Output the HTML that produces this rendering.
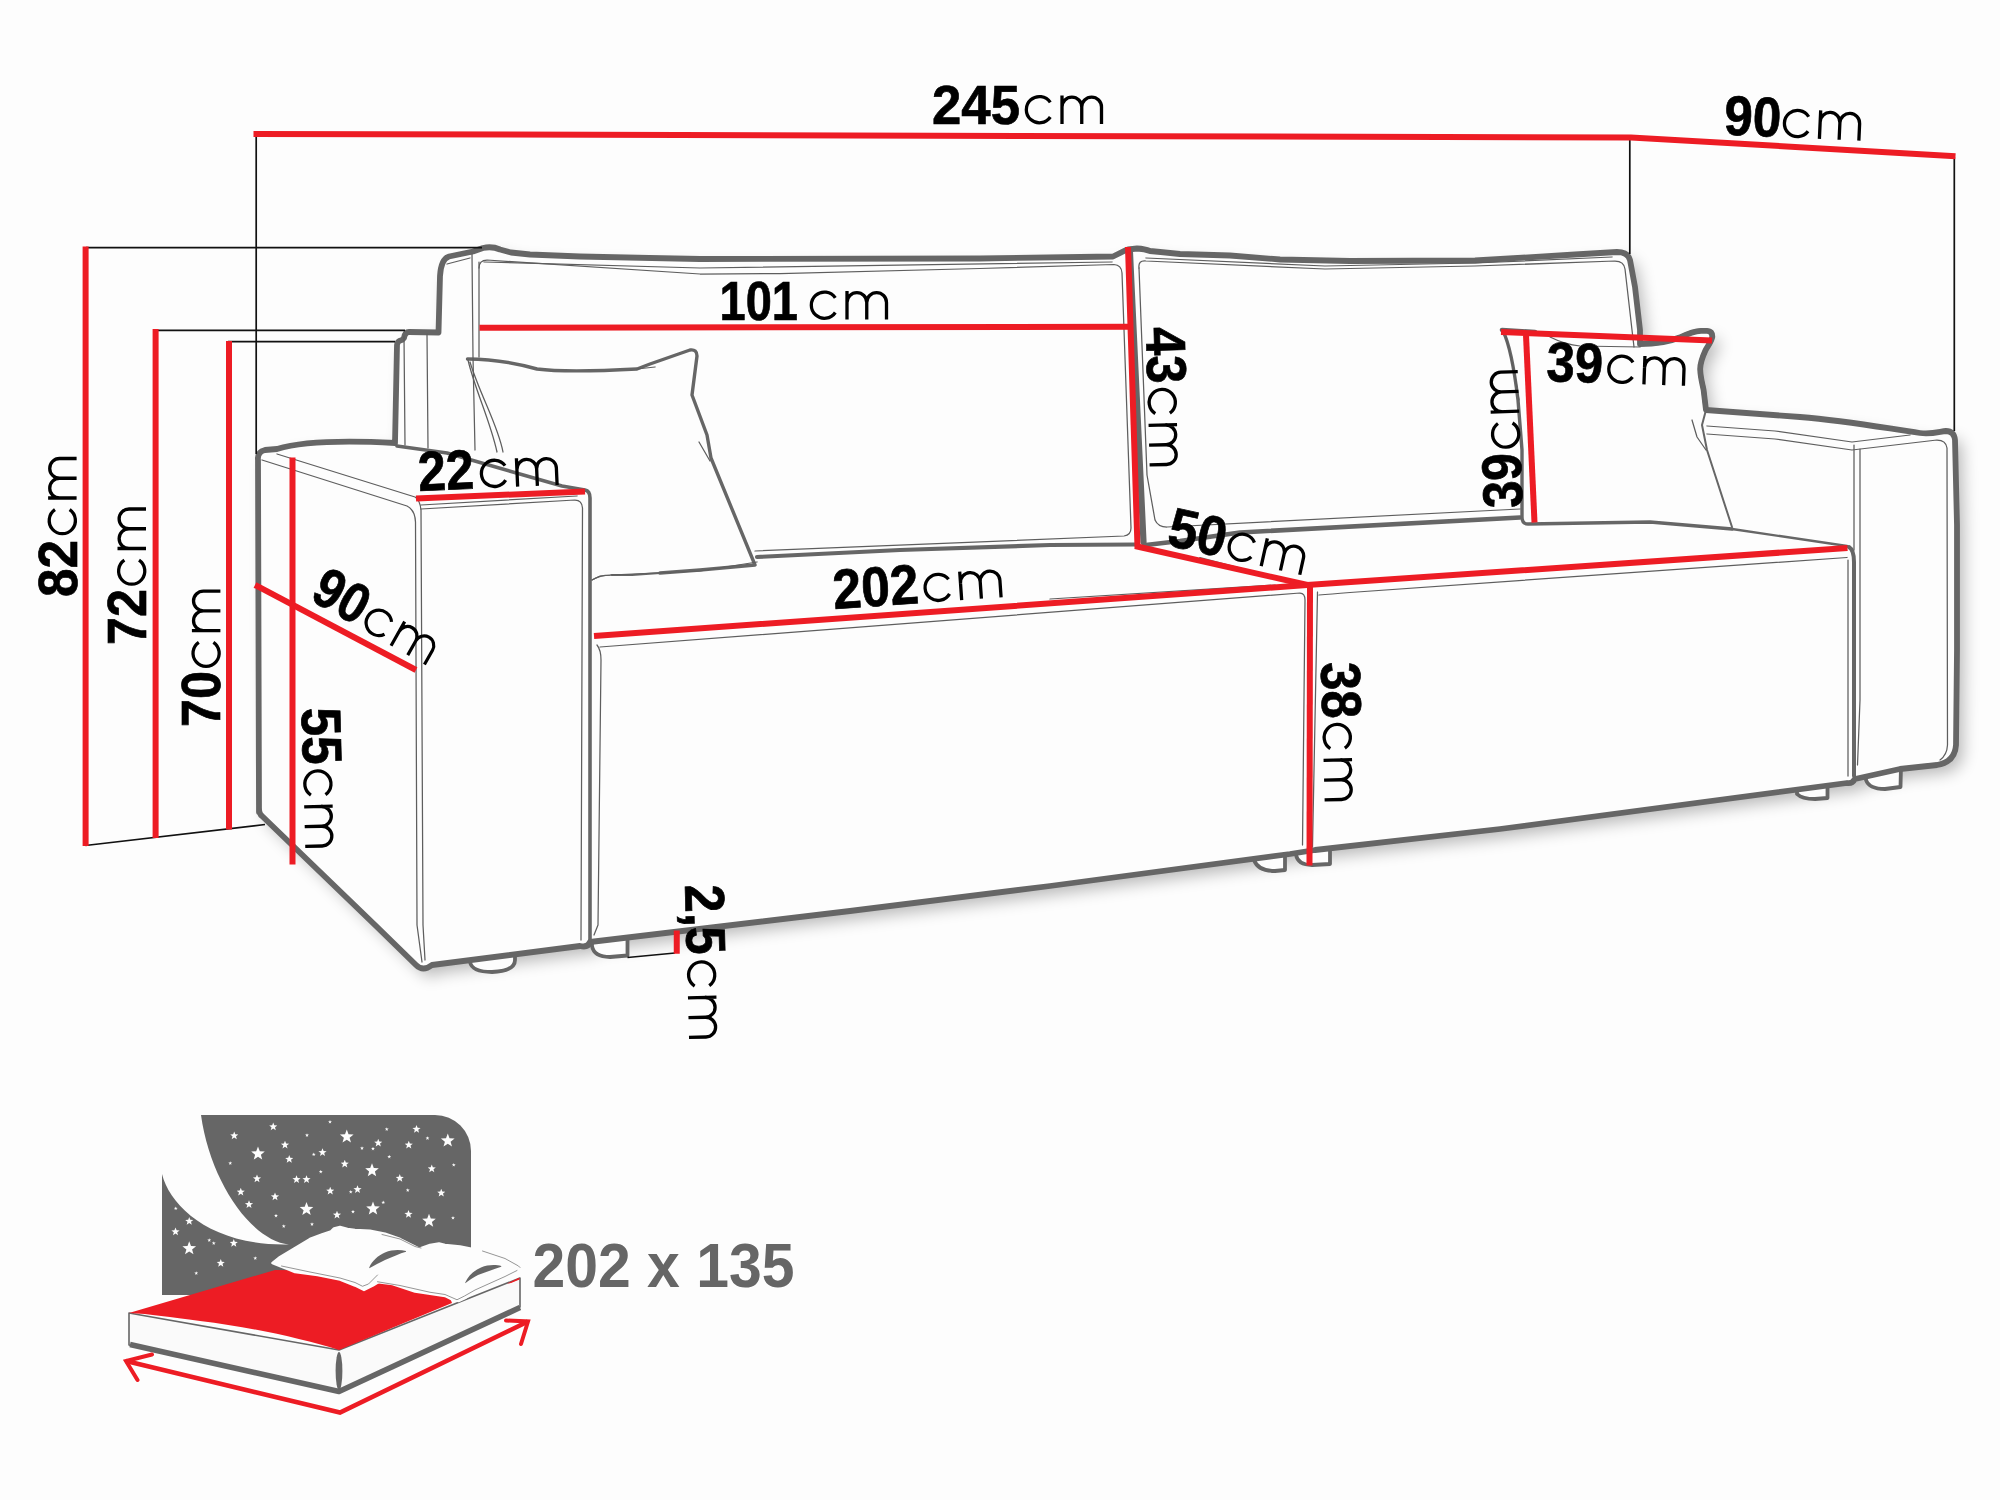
<!DOCTYPE html>
<html>
<head>
<meta charset="utf-8">
<title>Sofa dimensions</title>
<style>
html,body{margin:0;padding:0;background:#fdfdfd;}
body{width:2000px;height:1500px;overflow:hidden;font-family:"Liberation Sans",sans-serif;}
svg{display:block;}
.tk{fill:none;stroke:#666;stroke-linecap:round;stroke-linejoin:round;}
.tn{fill:none;stroke:#5e5e5e;stroke-width:1.25;stroke-linecap:round;stroke-linejoin:round;}
.bk{fill:none;stroke:#111;stroke-width:1.7;}
.rd{fill:none;stroke:#ed1c24;stroke-width:6;stroke-linecap:butt;stroke-linejoin:miter;}
.num{font-family:"Liberation Sans",sans-serif;font-weight:bold;font-size:56px;fill:#000;stroke:#000;stroke-width:0.7;}
.cm{fill:none;stroke:#000;stroke-width:3.3;stroke-linecap:butt;}
</style>
</head>
<body>
<svg width="2000" height="1500" viewBox="0 0 2000 1500">
<defs>
  <filter id="sh" filterUnits="userSpaceOnUse" x="200" y="200" width="1800" height="820">
    <feGaussianBlur in="SourceAlpha" stdDeviation="8"/>
    <feOffset dx="7" dy="8"/>
    <feComponentTransfer><feFuncA type="linear" slope="0.27"/></feComponentTransfer>
  </filter>
  <g id="cm" class="cm">
    <path d="M26.3,-21.6 A13.1,13.1 0 1 0 26.3,-7"/>
    <path d="M38,-28.5 V0 M38,-17 A9.875,9.875 0 0 1 57.75,-17 V0 M57.75,-17 A9.875,9.875 0 0 1 77.5,-17 V0"/>
  </g>
  <path id="sil" d="M259,812 L258,460 Q257,452 265,450 L277,449 C300,442 340,440 395,443 L397,345 Q397,341 402,340 L404,338 Q405,332 409,332 L438.5,332.5 L440,276 Q441,259 449,256.5 L473,251.5 L483,248 Q492,246 500,249.5 L511,252.5 L530,254.5 L580,256.5 L700,259 L980,258.5 L1080,257 L1113,256.5 L1125,250.5 L1128,249.5 L1137,248.5 Q1145,249 1150,251 L1180,254 L1230,255.5 L1280,259.5 L1350,261 L1475,260.5 L1575,254.5 L1617,252 Q1628,252 1630,260 L1635,287 L1640,330 L1640,344 C1658,344 1670,341.5 1679.5,337.5 C1688,333.5 1694,331 1701,330.8 L1707,330.8 Q1712.5,331 1712.3,337 C1711,343 1707,347 1705.4,350.5 C1702,358 1700,364 1700.2,369.5 C1700.5,378 1702.5,384 1703.6,390 L1706,410 L1800,417 C1850,421 1890,429 1920,433 C1932,434.5 1940,431.5 1946,431 Q1954,431 1955,440 L1957,525 L1957,650 L1956,745 Q1955,762 1937,765 L1900,769 L1855,779 Q1852,784 1847,783 L1500,829 L1315,850 L1290,854 L1050,886 L850,911 L590,942 Q588,948 580,946 L432,965 Q423,972 416,965 L375,925 L262,816 Q259,814 259,808 Z"/>
</defs>

<!-- SOFA -->
<g id="sofa">
  <use href="#sil" fill="#000" filter="url(#sh)"/>
  <g style="fill:#fdfdfd;stroke:#666;stroke-width:3.8;stroke-linejoin:round">
    <path d="M470,955 L470,962 Q472,972 492,972 Q515,971 515,960 L515,950 Z"/>
    <path d="M592,938 L592,946 Q594,957 610,957 L627.5,955.5 L627.5,936 Z"/>
    <path d="M1254,852 L1254,860 Q1258,871 1275,871 L1285,870 L1285,848 Z"/>
    <path d="M1296,848 L1296,855 Q1298,865 1312,865 L1330,864 L1330,844 Z"/>
    <path d="M1797,786 L1797,794 Q1802,799 1815,799 L1827.5,798 L1827.5,782 Z"/>
    <path d="M1866,772 L1866,780 Q1869,789 1885,789 L1900.5,787 L1901,766 Z"/>
  </g>
  <use href="#sil" style="fill:#fdfdfd;stroke:#666;stroke-width:5.8;stroke-linejoin:round"/>
</g>

<!-- SOFA-INNER -->
<g id="inner">
  <!-- thick inner lines -->
  <path class="tk" stroke-width="3.6" d="M397,446 L447,453 L562,486 L585,490 Q590,491 590,498 L590,940"/>
  <path class="tk" stroke-width="6.2" d="M1130,253 L1143.5,542"/>
  <path class="tk" stroke-width="4.2" d="M757,557 L900,550 L1050,545 L1135,544.5"/>
  <path class="tk" stroke-width="4.6" d="M1146,545 L1180,541 L1240,532.5 L1520,517.5"/>
  <path class="tk" stroke-width="4" d="M1849,547 Q1854,550 1854,562 L1854,776"/>
  <path class="tk" stroke-width="2.4" d="M1732,529 L1847,546"/>
  <!-- left pillow -->
  <path class="tk" stroke-width="3.4" d="M467.5,359 C490,359 512,362 537,369 C560,372 600,371 637,369 L650,364 L690,350 Q697,349 697,356 L692,395 L707,435 L711,458 L755,565 L700,570 L660,573"/>
  <path class="tk" stroke-width="2.2" d="M660,573 L632,575 L612,575"/>
  <path class="tn" d="M612,575 L600,576 L592,580 M699,442 L710,461 M637,369 L655,367"/>
  <path class="tn" d="M468,360 C475,390 490,420 497,452 M470,362 C480,395 498,425 503,452"/>
  <!-- right pillow -->
  <path class="tk" stroke-width="4.6" d="M1502,330 L1535,332 M1640,344 C1658,344 1670,341.5 1679.5,337.5 C1688,333.5 1694,331 1701,330.8 L1707,330.8 Q1712.5,331 1712.3,337 C1711,343 1707,347 1705.4,350.5 C1702,358 1700,364 1700.2,369.5 C1700.5,378 1702.5,384 1703.6,390 L1706,410"/>
  <path class="tk" stroke-width="3.4" d="M1503,331 C1510,345 1515,375 1518,400 L1522,450 L1522,517 Q1522,524 1528,524 L1650,522 L1732,529"/>
  <path class="tk" stroke-width="2" d="M1706,410 L1702,425 L1707,450 L1732,527"/>
  <path class="tn" d="M1550,337 C1560,342 1570,345 1580,346 L1640,347 M1692,420 L1697,437 L1706,450 M1506,337 C1512,360 1516,380 1519,400"/>
  <!-- thin seams: left arm -->
  <path class="tn" d="M262,460 L407,506 Q415,510 415.5,522 L417,925 L422,962"/>
  <path class="tn" d="M277,454 L415,497 Q420,500 421,510 L423,925 L425,960"/>
  <path class="tn" d="M421,509 L575,500 Q582,500 582.5,508 L581,940"/>
  <path class="tn" d="M421,505 L577,496"/>
  <!-- back left post seams -->
  <path class="tn" d="M472,254 L473,357 L475,450 M479,262 L479,357 M404,336 L405,445 M427,334 L428,448 M447,264 L470,258"/>
  <!-- left back cushion -->
  <path class="tn" d="M479,268 Q479,260 487,260 L700,274 L780,273.5 L980,268.5 L1114,264.5 Q1121.5,265 1122,273 L1131,528 Q1131,535 1124,536 L755,551"/>
  <path class="tn" d="M484,262 L700,268 L1112,262"/>
  <!-- right back cushion -->
  <path class="tn" d="M1139,268 Q1138,260 1146,261 L1325,269 L1475,266 L1615,261 Q1624,261 1625,269 L1632,330 L1634,347"/>
  <path class="tn" d="M1139,268 L1147,475 L1155,520 Q1158,527 1167,527 L1520,509"/>
  <path class="tn" d="M1146,258 L1325,266 L1475,263 L1612,257"/>
  <!-- seat -->
  <path class="tn" d="M592,580 Q600,575 610,575 L700,571 L757,562"/>
  <path class="tn" d="M600,647 L1300,593 Q1305,593 1305,600 L1302.5,845"/>
  <path class="tn" d="M597,645 Q601,650 601,660 L598,925 L594,935"/>
  <path class="tn" d="M1050,599 L1275,585"/>
  <path class="tn" d="M1317.5,592 L1312.5,847 M1319,595 Q1330,594 1350,592.5 L1847,557.5 M1848,560 L1848,776"/>
  <path class="tk" stroke-width="2" d="M1200,558 L1303,585"/>
  <!-- right arm seams -->
  <path class="tn" d="M1707,426 L1775,431 L1852,442 L1910,435"/>
  <path class="tn" d="M1707,434 L1775,439 L1852,450 L1937,440 Q1946,440 1947,448 L1947.5,745 Q1947,755 1940,760"/>
  <path class="tn" d="M1854,445 L1854,550 M1860,449 L1860,700 L1857.5,765"/>
</g>

<!-- DIMS -->
<g id="dims">
  <path class="bk" d="M256.2,134 V454 M1629.8,138 V254 M1954.3,157 V431 M86,247.7 H482 M155,330.3 H405 M228,341.7 H395 M85.4,845.5 L265,824.5 M627.5,957.5 L675,953"/>
  <path class="rd" d="M253.5,133.9 L1631,137.5 L1955.5,156.2"/>
  <path class="rd" d="M85.6,246.5 V846 M155.6,329 V838 M229,341 V829.5 M292.5,457.5 V864.5"/>
  <path class="rd" d="M255,585 L416,670"/>
  <path class="rd" d="M416,498.6 L585,491.4"/>
  <path class="rd" d="M479.5,327.8 L1129,326.8"/>
  <path class="rd" d="M1128,247 L1137.5,547.5"/>
  <path class="rd" d="M1135,546 L1307.5,585"/>
  <path class="rd" d="M594,636 L1307,585 L1847.5,548"/>
  <path class="rd" d="M1310,585 L1309.5,865.5"/>
  <path class="rd" d="M1501,332 L1712,340.5"/>
  <path class="rd" d="M1526,335 L1534.5,522.5"/>
  <path class="rd" d="M676.75,930.5 V953.75"/>
</g>

<!-- TEXT -->
<g id="labels">
  <g transform="translate(932,124) rotate(0)"><text class="num" textLength="88" lengthAdjust="spacingAndGlyphs">245</text><use href="#cm" transform="translate(92,0) scale(1.0)"/></g>
  <g transform="translate(1723.5,134.5) rotate(2.6)"><text class="num" textLength="57" lengthAdjust="spacingAndGlyphs">90</text><use href="#cm" transform="translate(58,0) scale(1.0)"/></g>
  <g transform="translate(76.6,597) rotate(-90)"><text class="num" textLength="57" lengthAdjust="spacingAndGlyphs">82</text><use href="#cm" transform="translate(61,0) scale(1.0)"/></g>
  <g transform="translate(146,645) rotate(-90)"><text class="num" textLength="56" lengthAdjust="spacingAndGlyphs">72</text><use href="#cm" transform="translate(58.5,0) scale(1.0)"/></g>
  <g transform="translate(220.4,727) rotate(-90)"><text class="num" textLength="56" lengthAdjust="spacingAndGlyphs">70</text><use href="#cm" transform="translate(58.4,0) scale(1.0)"/></g>
  <g transform="translate(301.6,708) rotate(88.5)"><text class="num" textLength="57" lengthAdjust="spacingAndGlyphs">55</text><use href="#cm" transform="translate(61,0) scale(1.0)"/></g>
  <g transform="translate(308.5,599) rotate(29.5)"><text class="num" textLength="55" lengthAdjust="spacingAndGlyphs">90</text><use href="#cm" transform="translate(58,0) scale(0.97)"/></g>
  <g transform="translate(418.75,491) rotate(-2.5)"><text class="num" textLength="56" lengthAdjust="spacingAndGlyphs">22</text><use href="#cm" transform="translate(61,0) scale(1.0)"/></g>
  <g transform="translate(719.5,319.5) rotate(0)"><text class="num" textLength="78.5" lengthAdjust="spacingAndGlyphs">101</text><use href="#cm" transform="translate(89.5,0) scale(1.0)"/></g>
  <g transform="translate(1146,327.5) rotate(88.5)"><text class="num" textLength="56.5" lengthAdjust="spacingAndGlyphs">43</text><use href="#cm" transform="translate(60,0) scale(1.0)"/></g>
  <g transform="translate(1165.5,545) rotate(12.5)"><text class="num" textLength="58" lengthAdjust="spacingAndGlyphs">50</text><use href="#cm" transform="translate(60,0) scale(1.0)"/></g>
  <g transform="translate(834,609) rotate(-4)"><text class="num" textLength="86" lengthAdjust="spacingAndGlyphs">202</text><use href="#cm" transform="translate(90,0) scale(1.0)"/></g>
  <g transform="translate(1321,662.5) rotate(88.5)"><text class="num" textLength="56.5" lengthAdjust="spacingAndGlyphs">38</text><use href="#cm" transform="translate(60,0) scale(1.0)"/></g>
  <g transform="translate(1546,381) rotate(2)"><text class="num" textLength="56.5" lengthAdjust="spacingAndGlyphs">39</text><use href="#cm" transform="translate(60,0) scale(1.0)"/></g>
  <g transform="translate(1522.5,507.5) rotate(-92)"><text class="num" textLength="55" lengthAdjust="spacingAndGlyphs">39</text><use href="#cm" transform="translate(58.5,0) scale(1.0)"/></g>
  <g transform="translate(685,885) rotate(88.5)"><text class="num" textLength="70" lengthAdjust="spacingAndGlyphs">2,5</text><use href="#cm" transform="translate(75,0) scale(1.0)"/></g>
</g>

<!-- BED -->
<g id="bed">
  <path fill="#666" d="M201,1115 H435 A36,36 0 0 1 471,1151 V1295 H162 V1174 C170,1207 213,1246.5 289,1244.5 C250,1240 210,1180 201,1115 Z"/>
  <path fill="#fdfdfd" d="M273.2,1122.5 L274.3,1125.3 L277.3,1125.4 L275.0,1127.3 L275.8,1130.2 L273.2,1128.6 L270.7,1130.2 L271.5,1127.3 L269.2,1125.4 L272.2,1125.3Z M330.0,1120.0 L330.5,1121.3 L331.9,1121.4 L330.8,1122.3 L331.2,1123.6 L330.0,1122.8 L328.8,1123.6 L329.2,1122.3 L328.1,1121.4 L329.5,1121.3Z M234.2,1131.5 L235.3,1134.3 L238.3,1134.4 L236.0,1136.3 L236.8,1139.2 L234.2,1137.6 L231.7,1139.2 L232.5,1136.3 L230.2,1134.4 L233.2,1134.3Z M307.0,1133.2 L307.5,1134.6 L308.9,1134.6 L307.8,1135.5 L308.2,1136.9 L307.0,1136.1 L305.8,1136.9 L306.2,1135.5 L305.1,1134.6 L306.5,1134.6Z M346.8,1129.5 L348.5,1134.3 L353.6,1134.5 L349.6,1137.7 L351.0,1142.6 L346.8,1139.8 L342.5,1142.6 L343.9,1137.7 L339.9,1134.5 L345.0,1134.3Z M386.8,1127.2 L387.2,1128.6 L388.7,1128.6 L387.5,1129.5 L387.9,1130.9 L386.8,1130.1 L385.6,1130.9 L386.0,1129.5 L384.8,1128.6 L386.3,1128.6Z M416.5,1125.0 L417.6,1127.8 L420.6,1127.9 L418.2,1129.8 L419.0,1132.7 L416.5,1131.1 L414.0,1132.7 L414.8,1129.8 L412.4,1127.9 L415.4,1127.8Z M427.5,1136.2 L428.0,1137.6 L429.4,1137.6 L428.3,1138.5 L428.7,1139.9 L427.5,1139.1 L426.3,1139.9 L426.7,1138.5 L425.6,1137.6 L427.0,1137.6Z M447.8,1133.5 L449.5,1138.3 L454.6,1138.5 L450.6,1141.7 L452.0,1146.6 L447.8,1143.8 L443.5,1146.6 L444.9,1141.7 L440.9,1138.5 L446.0,1138.3Z M285.0,1140.7 L286.1,1143.5 L289.1,1143.7 L286.7,1145.6 L287.5,1148.5 L285.0,1146.8 L282.5,1148.5 L283.3,1145.6 L280.9,1143.7 L283.9,1143.5Z M378.2,1138.7 L379.3,1141.5 L382.3,1141.7 L380.0,1143.6 L380.8,1146.5 L378.2,1144.8 L375.7,1146.5 L376.5,1143.6 L374.2,1141.7 L377.2,1141.5Z M408.8,1140.7 L409.8,1143.5 L412.8,1143.7 L410.5,1145.6 L411.3,1148.5 L408.8,1146.8 L406.2,1148.5 L407.0,1145.6 L404.7,1143.7 L407.7,1143.5Z M362.0,1146.2 L362.5,1147.6 L363.9,1147.6 L362.8,1148.5 L363.2,1149.9 L362.0,1149.1 L360.8,1149.9 L361.2,1148.5 L360.1,1147.6 L361.5,1147.6Z M373.0,1146.8 L373.5,1148.1 L374.9,1148.1 L373.8,1149.0 L374.2,1150.4 L373.0,1149.6 L371.8,1150.4 L372.2,1149.0 L371.1,1148.1 L372.5,1148.1Z M258.0,1146.5 L259.8,1151.3 L264.8,1151.5 L260.9,1154.7 L262.2,1159.6 L258.0,1156.8 L253.8,1159.6 L255.1,1154.7 L251.2,1151.5 L256.2,1151.3Z M322.5,1148.2 L323.6,1151.0 L326.6,1151.2 L324.2,1153.1 L325.0,1156.0 L322.5,1154.3 L320.0,1156.0 L320.8,1153.1 L318.4,1151.2 L321.4,1151.0Z M313.8,1152.5 L314.2,1153.8 L315.7,1153.9 L314.5,1154.8 L314.9,1156.1 L313.8,1155.3 L312.6,1156.1 L313.0,1154.8 L311.8,1153.9 L313.3,1153.8Z M389.2,1154.8 L389.7,1156.1 L391.2,1156.1 L390.0,1157.0 L390.4,1158.4 L389.2,1157.6 L388.1,1158.4 L388.5,1157.0 L387.3,1156.1 L388.8,1156.1Z M289.2,1155.0 L290.3,1157.8 L293.3,1157.9 L291.0,1159.8 L291.8,1162.7 L289.2,1161.1 L286.7,1162.7 L287.5,1159.8 L285.2,1157.9 L288.2,1157.8Z M230.2,1161.2 L230.7,1162.6 L232.2,1162.6 L231.0,1163.5 L231.4,1164.9 L230.2,1164.1 L229.1,1164.9 L229.5,1163.5 L228.3,1162.6 L229.8,1162.6Z M344.8,1159.7 L345.8,1162.5 L348.8,1162.7 L346.5,1164.6 L347.3,1167.5 L344.8,1165.8 L342.2,1167.5 L343.0,1164.6 L340.7,1162.7 L343.7,1162.5Z M372.0,1163.3 L373.8,1168.1 L378.8,1168.3 L374.9,1171.4 L376.2,1176.3 L372.0,1173.5 L367.8,1176.3 L369.1,1171.4 L365.2,1168.3 L370.2,1168.1Z M431.8,1164.5 L432.8,1167.3 L435.8,1167.4 L433.5,1169.3 L434.3,1172.2 L431.8,1170.6 L429.2,1172.2 L430.0,1169.3 L427.7,1167.4 L430.7,1167.3Z M453.8,1163.0 L454.2,1164.3 L455.7,1164.4 L454.5,1165.3 L454.9,1166.6 L453.8,1165.8 L452.6,1166.6 L453.0,1165.3 L451.8,1164.4 L453.3,1164.3Z M320.8,1169.8 L321.2,1171.1 L322.7,1171.1 L321.5,1172.0 L321.9,1173.4 L320.8,1172.6 L319.6,1173.4 L320.0,1172.0 L318.8,1171.1 L320.3,1171.1Z M257.0,1174.5 L258.1,1177.3 L261.1,1177.4 L258.7,1179.3 L259.5,1182.2 L257.0,1180.6 L254.5,1182.2 L255.3,1179.3 L252.9,1177.4 L255.9,1177.3Z M296.5,1175.2 L297.6,1178.0 L300.6,1178.2 L298.2,1180.1 L299.0,1183.0 L296.5,1181.3 L294.0,1183.0 L294.8,1180.1 L292.4,1178.2 L295.4,1178.0Z M306.5,1175.2 L307.6,1178.0 L310.6,1178.2 L308.2,1180.1 L309.0,1183.0 L306.5,1181.3 L304.0,1183.0 L304.8,1180.1 L302.4,1178.2 L305.4,1178.0Z M399.8,1174.0 L400.8,1176.8 L403.8,1176.9 L401.5,1178.8 L402.3,1181.7 L399.8,1180.1 L397.2,1181.7 L398.0,1178.8 L395.7,1176.9 L398.7,1176.8Z M240.8,1187.7 L241.8,1190.5 L244.8,1190.7 L242.5,1192.6 L243.3,1195.5 L240.8,1193.8 L238.2,1195.5 L239.0,1192.6 L236.7,1190.7 L239.7,1190.5Z M330.2,1186.7 L331.3,1189.5 L334.3,1189.7 L332.0,1191.6 L332.8,1194.5 L330.2,1192.8 L327.7,1194.5 L328.5,1191.6 L326.2,1189.7 L329.2,1189.5Z M357.5,1185.2 L358.6,1188.0 L361.6,1188.2 L359.2,1190.1 L360.0,1193.0 L357.5,1191.3 L355.0,1193.0 L355.8,1190.1 L353.4,1188.2 L356.4,1188.0Z M350.8,1190.0 L351.2,1191.3 L352.7,1191.4 L351.5,1192.3 L351.9,1193.6 L350.8,1192.8 L349.6,1193.6 L350.0,1192.3 L348.8,1191.4 L350.3,1191.3Z M407.8,1188.2 L408.2,1189.6 L409.7,1189.6 L408.5,1190.5 L408.9,1191.9 L407.8,1191.1 L406.6,1191.9 L407.0,1190.5 L405.8,1189.6 L407.3,1189.6Z M441.2,1188.7 L442.3,1191.5 L445.3,1191.7 L443.0,1193.6 L443.8,1196.5 L441.2,1194.8 L438.7,1196.5 L439.5,1193.6 L437.2,1191.7 L440.2,1191.5Z M275.0,1192.5 L276.1,1195.3 L279.1,1195.4 L276.7,1197.3 L277.5,1200.2 L275.0,1198.6 L272.5,1200.2 L273.3,1197.3 L270.9,1195.4 L273.9,1195.3Z M249.0,1200.2 L250.1,1203.0 L253.1,1203.2 L250.7,1205.1 L251.5,1208.0 L249.0,1206.3 L246.5,1208.0 L247.3,1205.1 L244.9,1203.2 L247.9,1203.0Z M383.2,1200.5 L383.7,1201.8 L385.2,1201.9 L384.0,1202.8 L384.4,1204.1 L383.2,1203.3 L382.1,1204.1 L382.5,1202.8 L381.3,1201.9 L382.8,1201.8Z M306.5,1202.0 L308.3,1206.8 L313.3,1207.0 L309.4,1210.2 L310.7,1215.1 L306.5,1212.3 L302.3,1215.1 L303.6,1210.2 L299.7,1207.0 L304.7,1206.8Z M373.0,1201.5 L374.8,1206.3 L379.8,1206.5 L375.9,1209.7 L377.2,1214.6 L373.0,1211.8 L368.8,1214.6 L370.1,1209.7 L366.2,1206.5 L371.2,1206.3Z M353.0,1209.8 L353.5,1211.1 L354.9,1211.1 L353.8,1212.0 L354.2,1213.4 L353.0,1212.6 L351.8,1213.4 L352.2,1212.0 L351.1,1211.1 L352.5,1211.1Z M337.0,1210.7 L338.1,1213.5 L341.1,1213.7 L338.7,1215.6 L339.5,1218.5 L337.0,1216.8 L334.5,1218.5 L335.3,1215.6 L332.9,1213.7 L335.9,1213.5Z M276.0,1213.8 L276.5,1215.1 L277.9,1215.1 L276.8,1216.0 L277.2,1217.4 L276.0,1216.6 L274.8,1217.4 L275.2,1216.0 L274.1,1215.1 L275.5,1215.1Z M408.5,1210.0 L409.6,1212.8 L412.6,1212.9 L410.2,1214.8 L411.0,1217.7 L408.5,1216.1 L406.0,1217.7 L406.8,1214.8 L404.4,1212.9 L407.4,1212.8Z M429.0,1213.8 L430.8,1218.6 L435.8,1218.8 L431.9,1221.9 L433.2,1226.8 L429.0,1224.0 L424.8,1226.8 L426.1,1221.9 L422.2,1218.8 L427.2,1218.6Z M453.0,1216.0 L453.5,1217.3 L454.9,1217.4 L453.8,1218.3 L454.2,1219.6 L453.0,1218.8 L451.8,1219.6 L452.2,1218.3 L451.1,1217.4 L452.5,1217.3Z M283.8,1224.2 L284.2,1225.6 L285.7,1225.6 L284.5,1226.5 L284.9,1227.9 L283.8,1227.1 L282.6,1227.9 L283.0,1226.5 L281.8,1225.6 L283.3,1225.6Z M312.0,1222.2 L312.5,1223.6 L313.9,1223.6 L312.8,1224.5 L313.2,1225.9 L312.0,1225.1 L310.8,1225.9 L311.2,1224.5 L310.1,1223.6 L311.5,1223.6Z M175.8,1206.5 L176.2,1207.8 L177.7,1207.9 L176.5,1208.8 L176.9,1210.1 L175.8,1209.3 L174.6,1210.1 L175.0,1208.8 L173.8,1207.9 L175.3,1207.8Z M189.2,1217.0 L190.3,1219.8 L193.3,1219.9 L191.0,1221.8 L191.8,1224.7 L189.2,1223.1 L186.7,1224.7 L187.5,1221.8 L185.2,1219.9 L188.2,1219.8Z M175.5,1227.5 L176.6,1230.3 L179.6,1230.4 L177.2,1232.3 L178.0,1235.2 L175.5,1233.6 L173.0,1235.2 L173.8,1232.3 L171.4,1230.4 L174.4,1230.3Z M209.2,1238.2 L209.7,1239.6 L211.2,1239.6 L210.0,1240.5 L210.4,1241.9 L209.2,1241.1 L208.1,1241.9 L208.5,1240.5 L207.3,1239.6 L208.8,1239.6Z M213.8,1241.2 L214.2,1242.6 L215.7,1242.6 L214.5,1243.5 L214.9,1244.9 L213.8,1244.1 L212.6,1244.9 L213.0,1243.5 L211.8,1242.6 L213.3,1242.6Z M233.8,1239.0 L234.8,1241.8 L237.8,1241.9 L235.5,1243.8 L236.3,1246.7 L233.8,1245.1 L231.2,1246.7 L232.0,1243.8 L229.7,1241.9 L232.7,1241.8Z M189.2,1241.3 L191.0,1246.1 L196.1,1246.3 L192.1,1249.4 L193.5,1254.3 L189.2,1251.5 L185.0,1254.3 L186.4,1249.4 L182.4,1246.3 L187.5,1246.1Z M255.2,1256.2 L255.7,1257.6 L257.2,1257.6 L256.0,1258.5 L256.4,1259.9 L255.2,1259.1 L254.1,1259.9 L254.5,1258.5 L253.3,1257.6 L254.8,1257.6Z M220.8,1259.0 L221.8,1261.8 L224.8,1261.9 L222.5,1263.8 L223.3,1266.7 L220.8,1265.1 L218.2,1266.7 L219.0,1263.8 L216.7,1261.9 L219.7,1261.8Z M196.2,1271.2 L196.7,1272.6 L198.2,1272.6 L197.0,1273.5 L197.4,1274.9 L196.2,1274.1 L195.1,1274.9 L195.5,1273.5 L194.3,1272.6 L195.8,1272.6Z"/>
  <!-- mattress -->
  <path fill="#fafafa" stroke="#666" stroke-width="1.6" stroke-linejoin="round" d="M129,1313 L129,1345 L339,1392 L520,1307 L520,1278 L339,1350 Z"/>
  <path fill="none" stroke="#666" stroke-width="5.6" stroke-linejoin="round" d="M130,1344.5 L339,1391.5 L520,1307.5"/>
  <path fill="#ed1c24" d="M129,1313 L275,1270 L440,1272 L452,1303 L339,1350 C300,1338 250,1327 200,1321 C170,1317 150,1314 129,1313 Z M507,1283.5 L519.5,1277.5 L519.5,1279.5 L511,1283 Z"/>
  <ellipse cx="339" cy="1371" rx="3.4" ry="19" fill="#666"/>
  <!-- pillows -->
  <path fill="#fdfdfd" stroke="#fdfdfd" stroke-width="2.5" stroke-linejoin="round" d="M272.5,1263 L280,1257 L295,1248 L310,1239 L322,1234.5 L331,1231.5 L334,1228.5 L340,1227 L347.5,1229 L355,1230 L370,1230.75 L385,1233.75 L400,1239 L412,1245 L419.5,1248.75 L410,1262 L390,1275 L373,1285.5 L364,1290 L355,1285.5 L340,1279.5 L317.5,1275 L295,1272 L280,1266Z"/>
  <path fill="#fdfdfd" stroke="#fdfdfd" stroke-width="2.5" stroke-linejoin="round" d="M374.5,1281.75 L385,1272 L400,1260 L419.5,1248.75 L430,1245 L439,1243.5 L445,1245 L460,1246.5 L475,1249.5 L490,1254 L505,1260 L517,1264.5 L520.5,1266 L517,1270.5 L505,1278 L490,1285.5 L475,1291.5 L466,1297.5 L458.5,1301 L451,1299 L445,1296 L430,1293.75 L415,1291.5 L392.5,1284Z"/>
  <path fill="none" stroke="#8a8a8a" stroke-width="0.9" stroke-linejoin="round" stroke-linecap="round" d="M382,1234.5 L400,1239 L415,1246.5 L421,1248 M482.5,1251 L505,1258.5 L518.5,1266 L520,1267.5 M281.5,1266 L310,1272 L340,1278 L355,1282.5 L362.5,1286.25 L368.5,1284 L377.5,1275 M377.5,1281.75 L400,1285.5 L430,1292.25 L445,1294.5 L457,1299.75 L464.5,1296 L475,1290 L505,1276.5 L517,1270.5"/>
  <path fill="#666" d="M369.25,1267.5 C372,1261 378,1255.5 385,1252.5 C392,1249.5 400,1249.5 406,1251 L406,1251.75 C400,1253.5 392,1257 385,1260 C380,1262.5 374,1265.5 369.25,1268.25 Z"/>
  <path fill="#666" d="M465.25,1282.5 C468,1276 474,1270.5 481,1267.5 C488,1264.5 496,1264.5 501.25,1266 L501.25,1266.75 C496,1268.5 486,1272 478,1275 C474,1277 469,1280.5 465.25,1283.25 Z"/>
  <!-- arrows -->
  <path fill="none" stroke="#ed1c24" stroke-width="4.6" stroke-linejoin="miter" d="M126,1361 L340,1412.5 L528,1321.5"/>
  <path fill="none" stroke="#ed1c24" stroke-width="4" stroke-linecap="round" d="M152,1354.5 L126,1361 L137.5,1380 M506,1320.5 L528,1321.5 L521,1344"/>
  <text x="532.5" y="1286.8" textLength="262" lengthAdjust="spacingAndGlyphs" style="font-family:'Liberation Sans',sans-serif;font-weight:bold;font-size:62.5px;fill:#666">202 x 135</text>
</g>

</svg>
</body>
</html>
